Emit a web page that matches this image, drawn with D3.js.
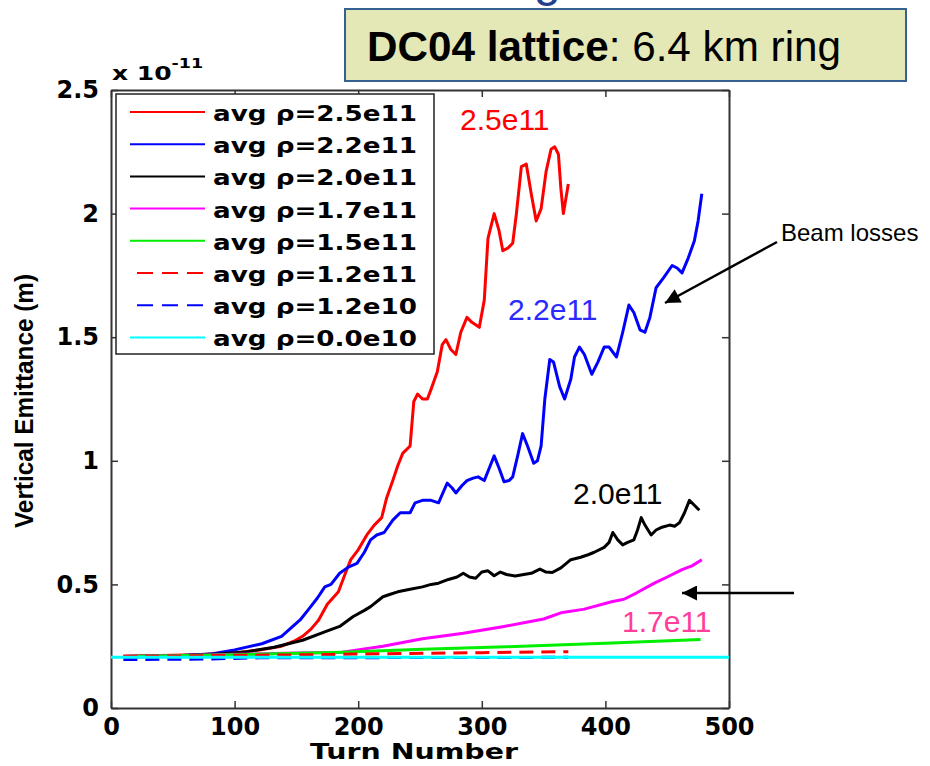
<!DOCTYPE html>
<html>
<head>
<meta charset="utf-8">
<script src="https://cdn.jsdelivr.net/npm/d3@7"></script>
<style>
  body { margin: 0; background: #fff; }
  svg { display: block; }
</style>
</head>
<body>
<div id="chart"></div>
<script>
// data: [turn number, emittance in 1e-11 m]
var rho25e11 = [[10,0.21],[40,0.212],[70,0.215],[100,0.222],[120,0.235],[138,0.25],[148,0.27],[155,0.29],[162,0.32],[168,0.356],[175,0.42],[184,0.47],[190,0.55],[194,0.6],[200,0.64],[207,0.7],[213,0.74],[219,0.77],[223,0.85],[228,0.92],[232,0.98],[236,1.03],[242,1.06],[245,1.24],[248,1.27],[252,1.25],[256,1.25],[259,1.29],[264,1.36],[268,1.47],[271,1.49],[275,1.45],[279,1.43],[283,1.52],[288,1.58],[292,1.56],[298,1.54],[302,1.65],[305,1.9],[310,2.0],[314,1.93],[317,1.85],[321,1.86],[325,1.88],[328,2.0],[332,2.19],[336,2.2],[340,2.08],[344,1.97],[348,2.02],[352,2.17],[356,2.26],[359,2.27],[362,2.24],[364,2.1],[366,2.0],[368,2.06],[370,2.12]];
var rho22e11 = [[10,0.205],[50,0.21],[80,0.218],[100,0.235],[122,0.26],[138,0.29],[153,0.356],[160,0.40],[167,0.445],[173,0.49],[178,0.5],[185,0.545],[192,0.57],[199,0.585],[205,0.63],[210,0.68],[215,0.7],[221,0.71],[228,0.76],[234,0.79],[242,0.79],[246,0.83],[252,0.84],[259,0.84],[265,0.83],[272,0.91],[276,0.89],[279,0.87],[284,0.9],[288,0.92],[293,0.93],[297,0.935],[302,0.92],[306,0.97],[310,1.02],[314,0.97],[318,0.915],[322,0.92],[325,0.935],[329,1.02],[333,1.11],[337,1.06],[342,0.99],[345,1.0],[348,1.06],[351,1.25],[355,1.41],[358,1.4],[363,1.3],[367,1.25],[372,1.33],[375,1.42],[379,1.46],[383,1.43],[389,1.35],[394,1.4],[399,1.46],[403,1.46],[409,1.42],[414,1.52],[419,1.63],[423,1.6],[428,1.53],[432,1.52],[436,1.58],[441,1.7],[447,1.74],[454,1.79],[458,1.78],[462,1.76],[467,1.82],[472,1.89],[475,1.97],[478,2.08]];
var rho20e11 = [[10,0.208],[50,0.21],[90,0.219],[110,0.228],[132,0.246],[155,0.274],[174,0.31],[185,0.33],[196,0.37],[205,0.395],[210,0.41],[220,0.45],[226,0.46],[232,0.47],[242,0.48],[252,0.49],[259,0.5],[265,0.505],[273,0.52],[280,0.53],[285,0.545],[290,0.53],[295,0.525],[300,0.55],[305,0.555],[310,0.535],[315,0.55],[320,0.54],[327,0.534],[334,0.54],[340,0.545],[347,0.562],[352,0.55],[357,0.548],[364,0.567],[372,0.6],[380,0.61],[386,0.62],[391,0.63],[399,0.65],[403,0.67],[406,0.71],[410,0.68],[414,0.66],[418,0.67],[423,0.68],[426,0.72],[429,0.77],[432,0.74],[437,0.7],[441,0.72],[445,0.73],[452,0.74],[456,0.735],[460,0.75],[464,0.79],[468,0.84],[472,0.82],[476,0.8]];
var rho17e11 = [[10,0.208],[60,0.212],[100,0.217],[150,0.222],[187,0.226],[220,0.25],[252,0.28],[285,0.302],[318,0.33],[350,0.36],[364,0.385],[383,0.4],[405,0.43],[415,0.44],[425,0.465],[440,0.506],[450,0.53],[462,0.56],[470,0.575],[478,0.6]];
var rho15e11 = [[10,0.208],[100,0.215],[187,0.226],[252,0.238],[320,0.248],[400,0.262],[477,0.277]];
var rho12e11 = [[10,0.208],[100,0.213],[174,0.216],[200,0.218],[300,0.224],[370,0.228]];
var rho12e10 = [[10,0.196],[75,0.198],[120,0.203],[370,0.205]];
var rho00e10 = [[0,0.205],[500,0.205]];

var legendLabels = ["avg \u03c1=2.5e11", "avg \u03c1=2.2e11", "avg \u03c1=2.0e11", "avg \u03c1=1.7e11",
                    "avg \u03c1=1.5e11", "avg \u03c1=1.2e11", "avg \u03c1=1.2e10", "avg \u03c1=0.0e10"];
var seriesColors = ["#ff0000", "#0000ff", "#000000", "#ff00ff", "#00ee00", "#ff0000", "#0000ff", "#00ffff"];
var seriesDashed = [false, false, false, false, false, true, true, false];
var xTicks = [0, 100, 200, 300, 400, 500];
var yTicks = [0, 0.5, 1, 1.5, 2, 2.5];

var series = [rho25e11, rho22e11, rho20e11, rho17e11, rho15e11, rho12e11, rho12e10, rho00e10];

var W = 930, H = 766;

var svg = d3.select("#chart")
  .append("svg")
    .attr("width", W)
    .attr("height", H);

var x = d3.scaleLinear().domain([0, 500]).range([111, 729]);
var y = d3.scaleLinear().domain([0, 2.5]).range([708, 90]);

// bit of the slide title that is cut off at the very top
svg.append("text")
  .attr("x", 534).attr("y", -4)
  .style("font-family", "Liberation Sans, Arial, sans-serif")
  .style("font-size", "48px")
  .attr("fill", "#23408e")
  .text("g");

// title box
svg.append("rect")
  .attr("x", 345).attr("y", 9)
  .attr("width", 561).attr("height", 72)
  .attr("fill", "#e4e7b6")
  .attr("stroke", "#35608f")
  .attr("stroke-width", 2);

var title = svg.append("text")
  .attr("x", 367).attr("y", 61)
  .attr("textLength", 474)
  .attr("lengthAdjust", "spacingAndGlyphs")
  .style("font-family", "Liberation Sans, Arial, sans-serif")
  .style("font-size", "42px")
  .attr("fill", "#000");
title.append("tspan").style("font-weight", "bold").text("DC04 lattice");
title.append("tspan").text(": 6.4 km ring");

// axes, ticks pointing inwards like matlab
function styleAxis(g) {
  g.select(".domain").attr("stroke", "#333").attr("stroke-width", 2);
  g.selectAll(".tick line").attr("stroke", "#333").attr("stroke-width", 1.5);
  g.selectAll(".tick text")
    .attr("fill", "#000")
    .style("font-family", "DejaVu Sans, sans-serif")
    .style("font-weight", "bold")
    .style("font-size", "24px");
}

svg.append("g")
  .attr("transform", "translate(0," + y(0) + ")")
  .call(d3.axisBottom(x).tickValues(xTicks).tickSizeInner(-7).tickSizeOuter(0).tickPadding(10)
    .tickFormat(function(d) { return String(d); }))
  .call(styleAxis);

svg.append("g")
  .attr("transform", "translate(" + x(0) + ",0)")
  .call(d3.axisLeft(y).tickValues(yTicks).tickSizeInner(-7).tickSizeOuter(0).tickPadding(12)
    .tickFormat(function(d) { return String(d); }))
  .call(styleAxis);

svg.append("g")
  .attr("transform", "translate(0," + y(2.5) + ")")
  .call(d3.axisTop(x).tickValues(xTicks).tickSizeInner(-7).tickSizeOuter(0).tickFormat(""))
  .call(styleAxis);

svg.append("g")
  .attr("transform", "translate(" + x(500) + ",0)")
  .call(d3.axisRight(y).tickValues(yTicks).tickSizeInner(-7).tickSizeOuter(0).tickFormat(""))
  .call(styleAxis);

// exponent
var expo = svg.append("text")
  .attr("transform", "translate(112,80) scale(1.25,1)")
  .style("font-family", "DejaVu Sans, sans-serif")
  .style("font-weight", "bold")
  .style("font-size", "20px")
  .attr("fill", "#000");
expo.append("tspan").text("x 10");
expo.append("tspan").attr("dy", -12).style("font-size", "14px").text("-11");

// axis titles
svg.append("text")
  .attr("transform", "translate(33,401) rotate(-90)")
  .attr("text-anchor", "middle")
  .attr("textLength", 254)
  .attr("lengthAdjust", "spacingAndGlyphs")
  .style("font-family", "Liberation Sans, Arial, sans-serif")
  .style("font-weight", "bold")
  .style("font-size", "25px")
  .text("Vertical Emittance (m)");

svg.append("text")
  .attr("x", 310).attr("y", 759)
  .attr("textLength", 208)
  .attr("lengthAdjust", "spacingAndGlyphs")
  .style("font-family", "DejaVu Sans, sans-serif")
  .style("font-weight", "bold")
  .style("font-size", "22px")
  .text("Turn Number");

// curves
var line = d3.line()
  .x(function(d) { return x(d[0]); })
  .y(function(d) { return y(d[1]); });

svg.selectAll(".curve")
  .data(series)
  .enter()
  .append("path")
    .attr("class", "curve")
    .attr("d", line)
    .attr("fill", "none")
    .attr("stroke", function(d, i) { return seriesColors[i]; })
    .attr("stroke-width", 3)
    .attr("stroke-linejoin", "round")
    .attr("stroke-dasharray", function(d, i) { return seriesDashed[i] ? "14,8" : null; });

// legend
var legend = svg.append("g");
legend.append("rect")
  .attr("x", 116).attr("y", 94)
  .attr("width", 318).attr("height", 260)
  .attr("fill", "#fff")
  .attr("stroke", "#222")
  .attr("stroke-width", 1.5);

var rows = legend.selectAll(".row")
  .data(legendLabels)
  .enter()
  .append("g")
    .attr("class", "row")
    .attr("transform", function(d, i) { return "translate(0," + (112 + i * 32.2) + ")"; });

rows.append("line")
  .attr("x1", function(d, i) { return seriesDashed[i] ? 137 : 130; })
  .attr("x2", 205)
  .attr("stroke", function(d, i) { return seriesColors[i]; })
  .attr("stroke-width", 2)
  .attr("stroke-dasharray", function(d, i) { return seriesDashed[i] ? "16,9" : null; });

rows.append("text")
  .attr("x", 213).attr("y", 9)
  .attr("textLength", 204)
  .attr("lengthAdjust", "spacingAndGlyphs")
  .style("font-family", "DejaVu Sans, sans-serif")
  .style("font-weight", "bold")
  .style("font-size", "22px")
  .text(function(d) { return d; });

// curve labels
var curveLabels = [
  {text: "2.5e11", color: "#ff0000", x: 460, y: 130},
  {text: "2.2e11", color: "#2b2bff", x: 508, y: 320},
  {text: "2.0e11", color: "#000000", x: 573, y: 504},
  {text: "1.7e11", color: "#ff3d9a", x: 622, y: 632}
];
svg.selectAll(".clabel")
  .data(curveLabels)
  .enter()
  .append("text")
    .attr("class", "clabel")
    .attr("x", function(d) { return d.x; })
    .attr("y", function(d) { return d.y; })
    .attr("fill", function(d) { return d.color; })
    .style("font-family", "Liberation Sans, Arial, sans-serif")
    .style("font-size", "30px")
    .text(function(d) { return d.text; });

// annotations
svg.append("text")
  .attr("x", 781).attr("y", 241)
  .style("font-family", "Liberation Sans, Arial, sans-serif")
  .style("font-size", "24px")
  .text("Beam losses");

svg.append("defs").append("marker")
  .attr("id", "head")
  .attr("viewBox", "0 0 10 10")
  .attr("refX", 10).attr("refY", 5)
  .attr("markerWidth", 7).attr("markerHeight", 6)
  .attr("markerUnits", "strokeWidth")
  .attr("orient", "auto")
  .append("path")
    .attr("d", "M0,0L10,5L0,10Z")
    .attr("fill", "#000");

svg.append("line")
  .attr("x1", 777).attr("y1", 242).attr("x2", 665).attr("y2", 303)
  .attr("stroke", "#000").attr("stroke-width", 2.5)
  .attr("marker-end", "url(#head)");

svg.append("line")
  .attr("x1", 794).attr("y1", 593).attr("x2", 682).attr("y2", 593)
  .attr("stroke", "#000").attr("stroke-width", 2.5)
  .attr("marker-end", "url(#head)");
</script>
</body>
</html>
